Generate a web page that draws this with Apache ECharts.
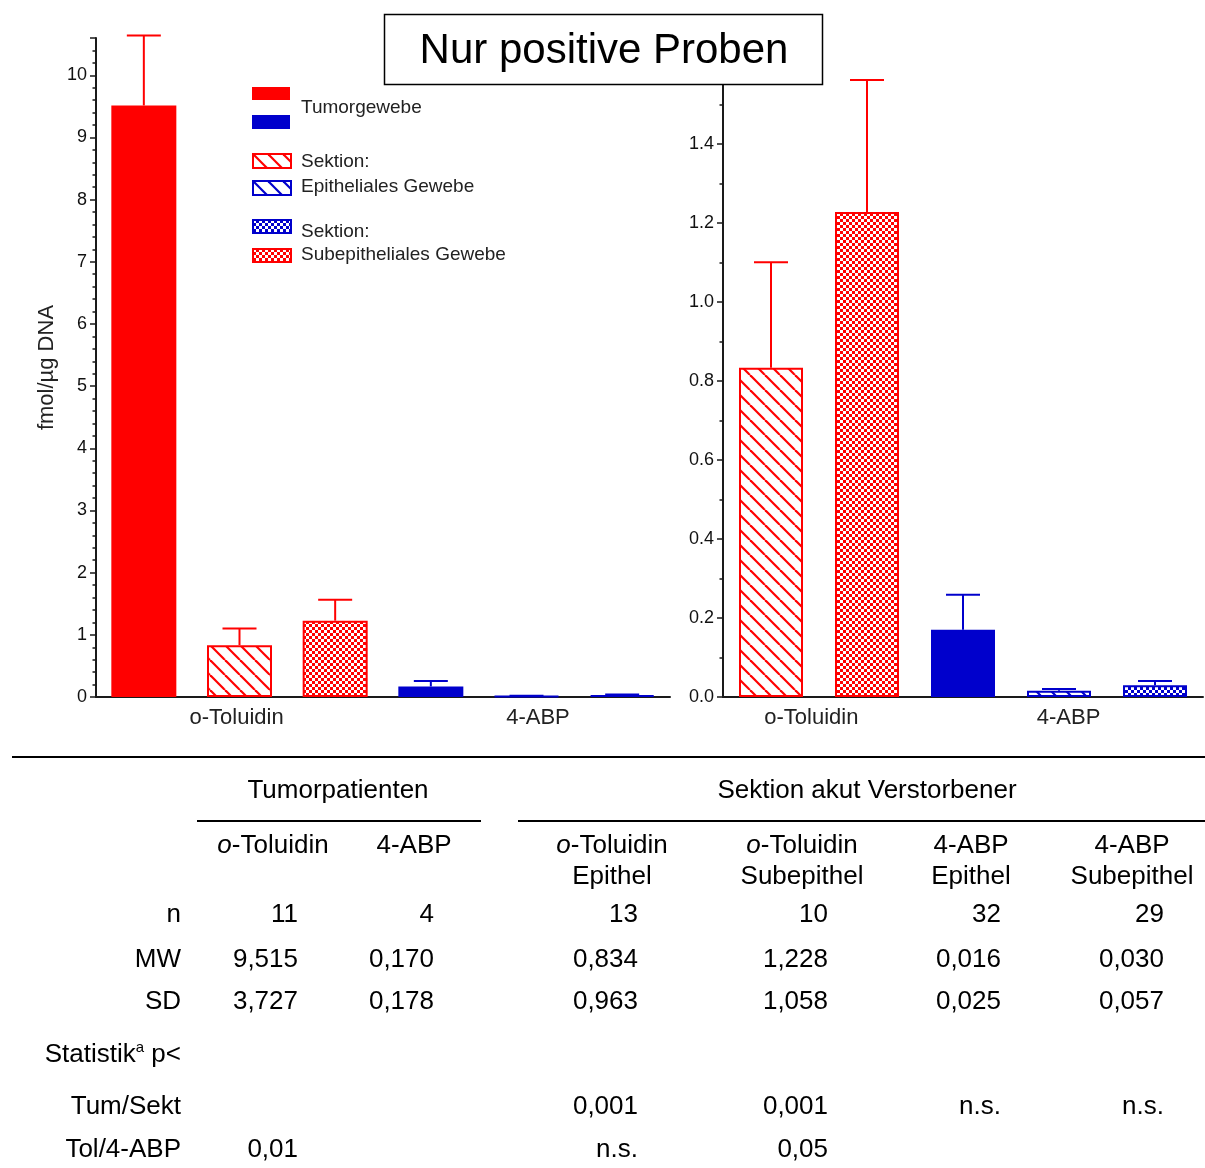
<!DOCTYPE html>
<html>
<head>
<meta charset="utf-8">
<script src="https://cdn.jsdelivr.net/npm/echarts@6/dist/echarts.min.js"></script>
<style>
  html, body { margin: 0; padding: 0; background: #fff; }
  #chart { width: 1205px; height: 1168px; }
</style>
</head>
<body>
<div id="chart"></div>
<script>
// Study columns (same order as the summary table)
const columnNames = ['o-Toluidin', '4-ABP', 'o-Toluidin Epithel', 'o-Toluidin Subepithel', '4-ABP Epithel', '4-ABP Subepithel'];
const nValues  = [11, 4, 13, 10, 32, 29];
const mwValues = [9.515, 0.170, 0.834, 1.228, 0.016, 0.030];
const sdValues = [3.727, 0.178, 0.963, 1.058, 0.025, 0.057];
const mwText   = ['9,515', '0,170', '0,834', '1,228', '0,016', '0,030'];
const sdText   = ['3,727', '0,178', '0,963', '1,058', '0,025', '0,057'];
const pTumSekt = ['', '', '0,001', '0,001', 'n.s.', 'n.s.'];
const pTolAbp  = ['0,01', '', 'n.s.', '0,05', '', ''];

// Group labels under the bar charts
const groupNames = ['o-Toluidin', '4-ABP'];

// Which table column goes into each bar slot
const leftOrder  = [0, 2, 3, 1, 4, 5];
const rightOrder = [2, 3, 1, 4, 5];

// Tissue kind and substance for each column
const columnFill  = ['solid', 'solid', 'hatch', 'check', 'hatch', 'check'];
const columnColor = ['#ff0000', '#0000cc', '#ff0000', '#ff0000', '#0000cc', '#0000cc'];

const FONT = '"Liberation Sans", Arial, sans-serif';

function makeHatch(color) {
  const s = 15;
  const c = document.createElement('canvas');
  c.width = s; c.height = s;
  const g = c.getContext('2d');
  g.fillStyle = '#fff'; g.fillRect(0, 0, s, s);
  g.strokeStyle = color; g.lineWidth = 2.2;
  for (const x0 of [-s, 0, s]) {
    g.beginPath(); g.moveTo(x0, 0); g.lineTo(x0 + s, s); g.stroke();
  }
  return c;
}
function makeCheck(color) {
  const c = document.createElement('canvas');
  c.width = 6; c.height = 6;
  const g = c.getContext('2d');
  g.fillStyle = color; g.fillRect(0, 0, 6, 6);
  g.fillStyle = '#fff';
  g.fillRect(0, 0, 3, 3); g.fillRect(3, 3, 3, 3);
  return c;
}
const patterns = {};
function fillFor(kind, color) {
  if (kind === 'solid') return color;
  const key = kind + color;
  if (!patterns[key]) patterns[key] = kind === 'hatch' ? makeHatch(color) : makeCheck(color);
  return { image: patterns[key], repeat: 'repeat' };
}

// standard error of the mean for each column
const semValues = sdValues.map((sd, i) => sd / Math.sqrt(nValues[i]));

function barData(order) {
  return order.map(ci => ({
    value: mwValues[ci],
    itemStyle: {
      color: fillFor(columnFill[ci], columnColor[ci]),
      borderColor: columnColor[ci],
      borderWidth: columnFill[ci] === 'solid' ? 0 : 2
    }
  }));
}
function errData(order) {
  return order.map((ci, slot) => [slot, mwValues[ci] + semValues[ci], mwValues[ci], ci]);
}
function renderErr(params, api) {
  const slot = api.value(0), top = api.value(1), base = api.value(2);
  const color = columnColor[api.value(3)];
  const pT = api.coord([slot, top]);
  const pB = api.coord([slot, base]);
  const half = 17;
  const st = { stroke: color, lineWidth: 2 };
  return {
    type: 'group',
    children: [
      { type: 'line', shape: { x1: pT[0], y1: pB[1], x2: pT[0], y2: pT[1] }, style: st },
      { type: 'line', shape: { x1: pT[0] - half, y1: pT[1], x2: pT[0] + half, y2: pT[1] }, style: st }
    ]
  };
}

const axisLineStyle = { color: '#1a1a1a', width: 2 };
const tickLabel = { color: '#111', fontFamily: FONT, fontSize: 18 };

function yAxisCfg(grid, max, interval, minorSplit, fmt, extra) {
  return Object.assign({
    type: 'value', gridIndex: grid, min: 0, max: max, interval: interval,
    axisLine: { show: true, lineStyle: axisLineStyle },
    axisTick: { show: true, length: 6, lineStyle: { color: '#1a1a1a', width: 1.5 } },
    minorTick: { show: true, splitNumber: minorSplit, length: 3.5, lineStyle: { color: '#1a1a1a', width: 1.5 } },
    splitLine: { show: false },
    axisLabel: Object.assign({ margin: 9, formatter: fmt, showMaxLabel: false }, tickLabel)
  }, extra || {});
}
function slotAxis(grid, count) {
  return {
    type: 'category', gridIndex: grid, data: Array.from({ length: count }, (_, i) => 's' + i),
    axisLine: { show: true, lineStyle: axisLineStyle },
    axisTick: { show: false }, axisLabel: { show: false }
  };
}
function groupAxis(grid, count, positions) {
  return {
    type: 'value', gridIndex: grid, min: 0, max: count, position: 'bottom',
    axisLine: { show: false }, axisTick: { show: false }, splitLine: { show: false },
    axisLabel: {
      customValues: positions,
      margin: 10, color: '#222', fontFamily: FONT, fontSize: 22,
      formatter: function (v) {
        let best = 0;
        positions.forEach((p, i) => { if (Math.abs(p - v) < Math.abs(positions[best] - v)) best = i; });
        return groupNames[best];
      }
    }
  };
}

// ---------- legend ----------
const legendItems = [
  { y: 87,  h: 13, kind: 'solid', color: '#ff0000' },
  { y: 115, h: 14, kind: 'solid', color: '#0000cc' },
  { y: 153, h: 14, kind: 'hatch', color: '#ff0000' },
  { y: 180, h: 14, kind: 'hatch', color: '#0000cc' },
  { y: 219, h: 13, kind: 'check', color: '#0000cc' },
  { y: 248, h: 13, kind: 'check', color: '#ff0000' }
];
const legendTexts = [
  { y: 108, text: 'Tumorgewebe' },
  { y: 162, text: 'Sektion:' },
  { y: 187, text: 'Epitheliales Gewebe' },
  { y: 232, text: 'Sektion:' },
  { y: 255, text: 'Subepitheliales Gewebe' }
];
const graphics = [];
legendItems.forEach(it => {
  graphics.push({
    type: 'rect', left: 252, top: it.y, z: 50,
    shape: { width: 38, height: it.h },
    style: { fill: fillFor(it.kind, it.color), stroke: it.kind === 'solid' ? null : it.color, lineWidth: 2 }
  });
});
legendTexts.forEach(t => {
  graphics.push({
    type: 'text', x: 301, y: t.y, z: 50,
    style: { text: t.text, fill: '#222', font: '19px ' + FONT, verticalAlign: 'middle' }
  });
});

// ---------- title box ----------
graphics.push({
  type: 'rect', z: 100, shape: { x: 384.5, y: 14.5, width: 438, height: 70 },
  style: { fill: '#fff', stroke: '#000', lineWidth: 1.5 }
});
graphics.push({
  type: 'text', z: 101, x: 604, y: 51,
  style: { text: 'Nur positive Proben', fill: '#000', font: '42px ' + FONT, align: 'center', verticalAlign: 'middle' }
});

// ---------- summary table ----------
const TS = 26;
const TF = TS + 'px ' + FONT;
const colCenter = [273, 414, 612, 802, 971, 1132];
const colRight  = [298, 434, 638, 828, 1001, 1164];
const headLine1 = ['{i|o}-Toluidin', '4-ABP', '{i|o}-Toluidin', '{i|o}-Toluidin', '4-ABP', '4-ABP'];
const headLine2 = ['', '', 'Epithel', 'Subepithel', 'Epithel', 'Subepithel'];
const richItalic = { i: { font: 'italic ' + TF, fill: '#000' } };

function tText(x, y, text, align, extra) {
  graphics.push({
    type: 'text', x: x, y: y,
    style: Object.assign({ text: text, fill: '#000', font: TF, align: align, verticalAlign: 'middle' }, extra || {})
  });
}
function hLine(x1, x2, y) {
  graphics.push({ type: 'line', shape: { x1: x1, y1: y, x2: x2, y2: y }, style: { stroke: '#000', lineWidth: 2 } });
}
hLine(12, 1205, 757);
hLine(197, 481, 821);
hLine(518, 1205, 821);
tText(338, 791, 'Tumorpatienten', 'center');
tText(867, 791, 'Sektion akut Verstorbener', 'center');
colCenter.forEach((x, i) => {
  tText(x, 846, headLine1[i], 'center', { rich: richItalic });
  if (headLine2[i]) tText(x, 877, headLine2[i], 'center');
});
const rowLabelX = 181;
tText(rowLabelX, 915, 'n', 'right');
tText(rowLabelX, 960, 'MW', 'right');
tText(rowLabelX, 1002, 'SD', 'right');
tText(rowLabelX, 1055, 'Statistik{s|a} p<', 'right', {
  rich: { s: { font: '15px ' + FONT, fill: '#000', verticalAlign: 'top', lineHeight: 30, padding: [0, 0, 10, 0] } }
});
tText(rowLabelX, 1107, 'Tum/Sekt', 'right');
tText(rowLabelX, 1150, 'Tol/4-ABP', 'right');
colRight.forEach((x, i) => {
  tText(x, 915, String(nValues[i]), 'right');
  tText(x, 960, mwText[i], 'right');
  tText(x, 1002, sdText[i], 'right');
  if (pTumSekt[i]) tText(x, 1107, pTumSekt[i], 'right');
  if (pTolAbp[i]) tText(x, 1150, pTolAbp[i], 'right');
});

const chart = echarts.init(document.getElementById('chart'), null, { renderer: 'canvas' });
chart.setOption({
  animation: false,
  backgroundColor: '#fff',
  grid: [
    { left: 96, top: 38, width: 574, height: 659 },
    { left: 723, top: 77, width: 480, height: 620 }
  ],
  xAxis: [
    slotAxis(0, 6),
    slotAxis(1, 5),
    groupAxis(0, 6, [1.47, 4.62]),
    groupAxis(1, 5, [0.92, 3.6])
  ],
  yAxis: [
    yAxisCfg(0, 10.6, 1, 5, v => String(v), {
      name: 'fmol/µg DNA', nameLocation: 'middle', nameGap: 38, nameRotate: 90,
      nameTextStyle: { color: '#222', fontFamily: FONT, fontSize: 22 }
    }),
    yAxisCfg(1, 1.57, 0.2, 2, v => v.toFixed(1))
  ],
  series: [
    { type: 'bar', xAxisIndex: 0, yAxisIndex: 0, barWidth: 65, data: barData(leftOrder), z: 2 },
    { type: 'custom', xAxisIndex: 0, yAxisIndex: 0, renderItem: renderErr, data: errData(leftOrder), encode: { x: 0, y: 1 }, clip: false, z: 3 },
    { type: 'bar', xAxisIndex: 1, yAxisIndex: 1, barWidth: 64, data: barData(rightOrder), z: 2 },
    { type: 'custom', xAxisIndex: 1, yAxisIndex: 1, renderItem: renderErr, data: errData(rightOrder), encode: { x: 0, y: 1 }, clip: false, z: 3 }
  ],
  graphic: graphics
});
</script>
</body>
</html>
